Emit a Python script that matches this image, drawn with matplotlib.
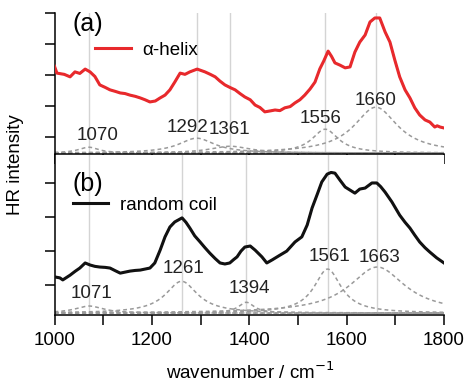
import numpy as np
import matplotlib
matplotlib.use("Agg")
import matplotlib.pyplot as plt

plt.rcParams['font.family'] = ['Liberation Sans', 'DejaVu Sans']

# ---------------- data ----------------
# (a) alpha-helix spectrum
wn_a = [1000, 1005, 1020, 1032, 1042, 1052, 1063, 1073, 1083, 1093, 1104, 1114, 1125, 1135, 1145,
        1155, 1166, 1176, 1186, 1196, 1207, 1217, 1227, 1237, 1247, 1258, 1268, 1278, 1293, 1309,
        1320, 1330, 1340, 1350, 1360, 1371, 1381, 1391, 1402, 1412, 1422, 1432, 1443, 1453, 1463,
        1473, 1484, 1494, 1504, 1514, 1525, 1535, 1545, 1553, 1562, 1569, 1576, 1586, 1597, 1607,
        1617, 1627, 1638, 1648, 1658, 1668, 1679, 1689, 1699, 1709, 1720, 1730, 1740, 1750, 1761,
        1771, 1776, 1781, 1786, 1792, 1800]
int_a = [2.28, 2.06, 2.02, 1.94, 2.10, 2.05, 2.19, 2.10, 1.95, 1.68, 1.60, 1.52, 1.47, 1.42, 1.40,
         1.35, 1.31, 1.26, 1.20, 1.13, 1.16, 1.26, 1.35, 1.52, 1.77, 2.06, 2.02, 2.10, 2.19, 2.10,
         2.02, 1.94, 1.80, 1.68, 1.60, 1.52, 1.40, 1.29, 1.20, 1.03, 0.95, 0.81, 0.84, 0.87, 0.85,
         0.94, 0.98, 1.10, 1.20, 1.35, 1.55, 1.77, 2.20, 2.45, 2.77, 2.60, 2.39, 2.32, 2.23, 2.26,
         2.74, 3.06, 3.29, 3.71, 3.84, 3.84, 3.39, 3.06, 2.48, 1.94, 1.52, 1.26, 0.94, 0.71, 0.55,
         0.48, 0.40, 0.32, 0.36, 0.32, 0.29]

# (b) random coil spectrum
wn_b = [1000, 1011, 1017, 1032, 1042, 1052, 1063, 1073, 1083, 1093, 1104, 1114, 1125, 1135, 1145,
        1155, 1166, 1176, 1186, 1196, 1206, 1217, 1227, 1237, 1247, 1262, 1270, 1278, 1288, 1299,
        1309, 1319, 1330, 1340, 1350, 1360, 1368, 1375, 1383, 1391, 1402, 1412, 1426, 1436, 1447,
        1463, 1477, 1494, 1508, 1519, 1529, 1539, 1549, 1560, 1568, 1576, 1586, 1597, 1607, 1617,
        1627, 1638, 1652, 1662, 1670, 1679, 1693, 1709, 1720, 1730, 1740, 1750, 1761, 1771, 1785,
        1800]
int_b = [0.24, 0.21, 0.15, 0.29, 0.40, 0.50, 0.65, 0.59, 0.55, 0.53, 0.52, 0.50, 0.42, 0.35, 0.38,
         0.41, 0.43, 0.44, 0.47, 0.50, 0.65, 1.03, 1.42, 1.71, 1.86, 1.98, 1.85, 1.68, 1.45, 1.27,
         1.10, 0.94, 0.78, 0.65, 0.62, 0.65, 0.75, 0.83, 1.00, 1.12, 1.15, 1.03, 0.83, 0.65, 0.74,
         0.88, 1.00, 1.27, 1.42, 1.77, 2.27, 2.65, 3.04, 3.27, 3.32, 3.30, 3.10, 2.89, 2.80, 2.71,
         2.83, 2.86, 3.01, 3.01, 2.90, 2.74, 2.45, 2.06, 1.85, 1.68, 1.47, 1.27, 1.10, 0.97, 0.80,
         0.65]

# Lorentzian components: centre, height, half width
peaks_a = [1070, 1292, 1361, 1556, 1660]
height_a = [0.19, 0.48, 0.22, 0.77, 1.48]
hwhm_a = [25, 45, 50, 33, 55]
base_a = -0.52

peaks_b = [1071, 1261, 1394, 1561, 1663]
height_b = [0.21, 0.94, 0.32, 1.30, 1.36]
hwhm_b = [35, 40, 20, 34, 70]
base_b = -0.83

peak_labels_a = ["1070", "1292", "1361", "1556", "1660"]
peak_labels_b = ["1071", "1261", "1394", "1561", "1663"]

xticks = [1000, 1200, 1400, 1600, 1800]

# label layout (data coordinates)
lab_pos_a = [(1089, 0.06), (1274, 0.32), (1360, 0.23), (1547, 0.61), (1660, 1.19)]
lab_pos_b = [(1077, -0.24), (1264, 0.50), (1400, -0.09), (1564, 0.83), (1667, 0.80)]

# ---------------- figure ----------------
W, H = 468, 385
fig = plt.figure(figsize=(W / 100, H / 100), dpi=100)
left = 54.5 / W
right = 444 / W
ax_a = fig.add_axes([left, (H - 154) / H, right - left, 141 / H])
ax_b = fig.add_axes([left, (H - 315) / H, right - left, 160 / H])

xs = np.linspace(1000, 1800, 801)
fs = 13.5


def style(ax, show_labels):
    for s in ['top', 'right']:
        ax.spines[s].set_visible(False)
    for s in ['left', 'bottom']:
        ax.spines[s].set_linewidth(1.1)
    ax.set_xlim(1000, 1800)
    ax.set_xticks(xticks)
    ax.set_xticks(range(1100, 1800, 200), minor=True)
    ax.tick_params(axis='x', which='both', direction='out', length=7, width=1.1,
                   labelsize=fs, pad=5, labelbottom=show_labels)
    ax.tick_params(axis='y', which='both', direction='out', length=7, width=1.1,
                   labelleft=False)


def draw(ax, wn, inten, color, label, peaks, heights, hwhms, base, plabels, lpos):
    for c in peaks:
        ax.axvline(c, color='#d4d4d4', lw=1.0, zorder=1)
    for c, h, w in zip(peaks, heights, hwhms):
        ax.plot(xs, base + h / (1 + ((xs - c) / w) ** 2), color='#9a9a9a',
                lw=1.1, ls=(0, (2.5, 2)), zorder=2)
    ax.plot(xs, np.full_like(xs, base), color='#9a9a9a', lw=1.1, ls=(0, (2.5, 2)), zorder=2)
    ax.plot(wn, inten, color='#3a3a8c', lw=1.2, ls=(0, (4, 2)), zorder=3)
    ax.plot(wn, inten, color=color, lw=2.2, zorder=4, label=label)
    for t, (x, y) in zip(plabels, lpos):
        ax.text(x, y, t, fontsize=fs, ha='center', va='center', color='#222222', zorder=5)


draw(ax_a, wn_a, int_a, '#e8292c', 'α-helix', peaks_a, height_a, hwhm_a, base_a,
     peak_labels_a, lab_pos_a)
draw(ax_b, wn_b, int_b, '#111111', 'random coil', peaks_b, height_b, hwhm_b, base_b,
     peak_labels_b, lab_pos_b)

style(ax_a, False)
style(ax_b, True)
ax_a.set_ylim(-0.55, 4.0)
ax_a.set_yticks([0, 1, 2, 3, 4])
ax_b.set_ylim(-0.885, 3.835)
ax_b.set_yticks([0, 1, 2, 3])

ax_a.text(0.045, 0.92, "(a)", transform=ax_a.transAxes, fontsize=18, va='center', ha='left')
ax_b.text(0.045, 0.82, "(b)", transform=ax_b.transAxes, fontsize=18, va='center', ha='left')

ax_a.legend(loc='center left', bbox_to_anchor=(0.105, 0.738), frameon=False, fontsize=fs,
            handlelength=1.9, handletextpad=0.6, borderaxespad=0, borderpad=0)
ax_b.legend(loc='center left', bbox_to_anchor=(0.047, 0.6875), frameon=False, fontsize=fs,
            handlelength=1.9, handletextpad=0.6, borderaxespad=0, borderpad=0)

fig.text(16 / W, 1 - 165 / H, "HR intensity", rotation=90, fontsize=fs, ha='center', va='center')
fig.text(250 / W, 1 - 372 / H, "wavenumber / cm$^{-1}$", fontsize=fs, ha='center', va='center')

fig.savefig("out.png", dpi=100)
